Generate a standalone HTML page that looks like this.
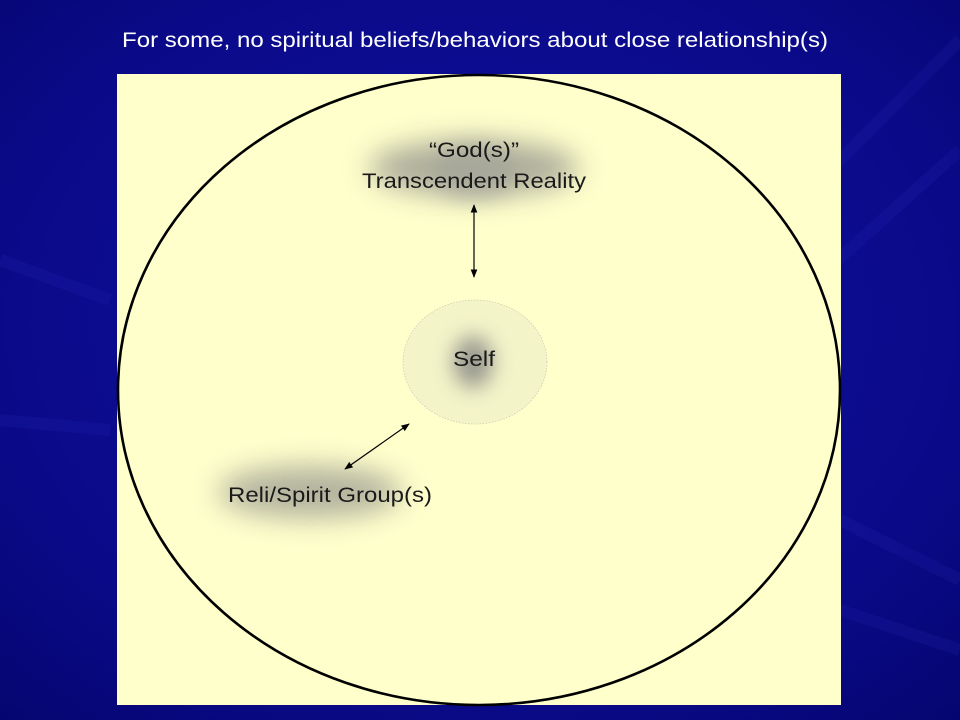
<!DOCTYPE html>
<html><head><style>
html,body{margin:0;padding:0;width:960px;height:720px;overflow:hidden;background:#0c0c8c;}
</style></head><body>
<svg width="960" height="720" viewBox="0 0 960 720" xmlns="http://www.w3.org/2000/svg" style="display:block">
<defs>
<radialGradient id="bg" cx="0.5" cy="0.45" r="0.75">
<stop offset="0" stop-color="#1010a0"/>
<stop offset="0.7" stop-color="#0a0a88"/>
<stop offset="1" stop-color="#050570"/>
</radialGradient>
<filter id="b1" x="-1" y="-1" width="3" height="3"><feGaussianBlur stdDeviation="14"/></filter>
<filter id="b2" x="-1" y="-1" width="3" height="3"><feGaussianBlur stdDeviation="10"/></filter>
<marker id="ah" viewBox="0 0 10 10" refX="9" refY="5" markerWidth="7" markerHeight="7" orient="auto-start-reverse">
<path d="M0,1 L10,5 L0,9 z" fill="#000"/>
</marker>
</defs>
<rect width="960" height="720" fill="url(#bg)"/>
<g stroke="#3a3ad0" stroke-opacity="0.12" stroke-width="12" fill="none">
<path d="M960,40 L700,300"/>
<path d="M960,150 L760,330"/>
<path d="M0,260 L110,300"/>
<path d="M0,420 L110,430"/>
<path d="M840,520 L960,580"/>
<path d="M840,610 L960,650"/>
</g>
<text x="475" y="47" font-family="Liberation Sans, sans-serif" font-size="21" fill="#fff" text-anchor="middle" textLength="706" lengthAdjust="spacingAndGlyphs">For some, no spiritual beliefs/behaviors about close relationship(s)</text>
<rect x="117" y="74" width="724" height="631" fill="#ffffcc"/>
<!-- God blob -->
<ellipse cx="474" cy="168" rx="105" ry="28" fill="#8a8a86" opacity="0.7" filter="url(#b1)"/>
<ellipse cx="474" cy="172" rx="40" ry="28" fill="#a0a09a" opacity="0.5" filter="url(#b2)"/>
<!-- Self -->
<ellipse cx="475" cy="362" rx="72" ry="62" fill="#f0f0c8" opacity="0.7" stroke="#b8b8a8" stroke-width="0.8" stroke-dasharray="1.5,1.5"/>
<ellipse cx="473" cy="362" rx="20" ry="26" fill="#8a8a86" opacity="0.85" filter="url(#b2)"/>
<!-- Group -->
<ellipse cx="310" cy="492" rx="92" ry="26" fill="#8a8a86" opacity="0.65" filter="url(#b1)"/>
<ellipse cx="479" cy="390" rx="361" ry="315" fill="none" stroke="#000" stroke-width="2.6"/>
<line x1="474" y1="205" x2="474" y2="277" stroke="#000" stroke-width="1.2" marker-start="url(#ah)" marker-end="url(#ah)"/>
<line x1="409" y1="424" x2="345" y2="469" stroke="#000" stroke-width="1.2" marker-start="url(#ah)" marker-end="url(#ah)"/>
<g font-family="Liberation Sans, sans-serif" font-size="21" fill="#1a1a1a" text-anchor="middle" lengthAdjust="spacingAndGlyphs">
<text x="474" y="157" textLength="90" lengthAdjust="spacingAndGlyphs">“God(s)”</text>
<text x="474" y="188" textLength="224" lengthAdjust="spacingAndGlyphs">Transcendent Reality</text>
<text x="474" y="366" textLength="42" lengthAdjust="spacingAndGlyphs">Self</text>
<text x="330" y="502" textLength="204" lengthAdjust="spacingAndGlyphs">Reli/Spirit Group(s)</text>
</g>
</svg>
</body></html>
